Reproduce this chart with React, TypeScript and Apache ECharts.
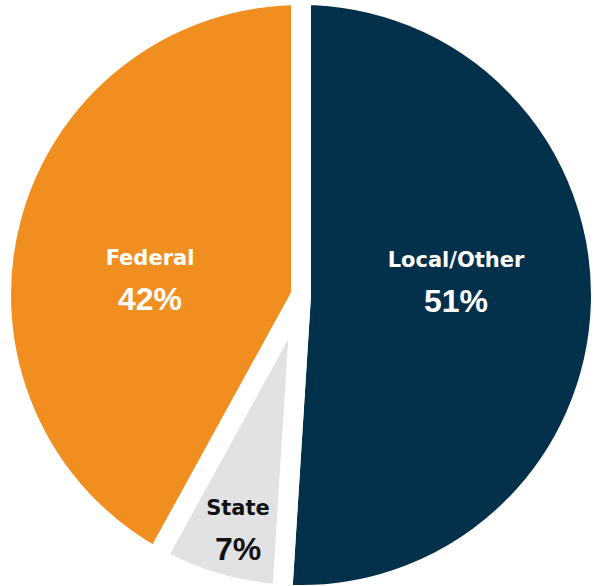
import React, { useEffect, useRef } from "react";
import * as echarts from "echarts";

const categories = ["Local/Other", "State", "Federal"];
const values = [51, 7, 42];
const colors = ["#03304A", "#E1E2E4", "#F08F1F"];
const labelColors = ["#FFFFFF", "#111111", "#FFFFFF"];
// label block centres (layout only)
const labelPos = [
  [456, 281],
  [238, 529],
  [150, 279],
];

export default function App() {
  const ref = useRef<HTMLDivElement>(null);
  useEffect(() => {
    if (!ref.current) return;
    const chart = echarts.init(ref.current, undefined, { renderer: "svg" });
    const data = categories.map((name, i) => ({
      name,
      value: values[i],
      itemStyle: { color: colors[i] },
      label: {
        rich: {
          n: {
            fontFamily: "DejaVu Sans",
            fontWeight: "bold",
            fontSize: 21,
            lineHeight: 40,
            color: labelColors[i],
            align: "center",
          },
          v: {
            fontFamily: "Liberation Sans",
            fontWeight: "bold",
            fontSize: 32,
            lineHeight: 42,
            color: labelColors[i],
            align: "center",
          },
        },
      },
    }));
    chart.setOption({
      animation: false,
      backgroundColor: "#FFFFFF",
      series: [
        {
          type: "pie",
          center: [301, 295],
          radius: [0, 300],
          startAngle: 90,
          clockwise: true,
          itemStyle: {
            borderColor: "#FFFFFF",
            borderWidth: 20,
          },
          label: {
            show: true,
            position: "inside",
            formatter: "{n|{b}}\n{v|{c}%}",
            align: "center",
            verticalAlign: "middle",
          },
          labelLine: { show: false },
          labelLayout: (params: any) => {
            const p = labelPos[params.dataIndex];
            return { x: p[0], y: p[1], align: "center", verticalAlign: "middle" };
          },
          emphasis: { disabled: true },
          data,
        },
      ],
    });
    return () => chart.dispose();
  }, []);
  return (
    <div
      ref={ref}
      style={{ position: "absolute", left: 0, top: 0, width: 594, height: 586 }}
    />
  );
}
